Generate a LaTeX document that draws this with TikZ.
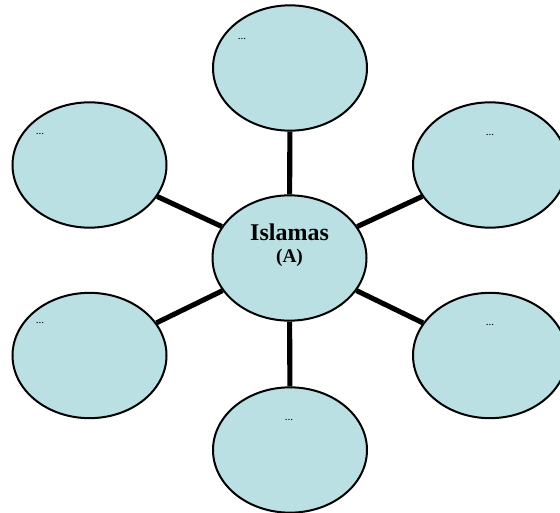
\documentclass[tikz,border=0pt]{standalone}
\usepackage{fontspec}
\setmainfont{Liberation Serif}
\usetikzlibrary{shapes.geometric}
\definecolor{bub}{HTML}{BBE0E3}
\begin{document}
\begin{tikzpicture}[x=0.75pt,y=-0.75pt,
  bubble/.style={ellipse, draw=black, line width=1.5pt, fill=bub,
    minimum width=115.5pt, minimum height=94pt, inner sep=0pt},
  spoke/.style={line width=3.8pt, black},
  dots/.style={font=\fontsize{8.5}{9}\selectfont, inner sep=0pt},
  title/.style={font=\bfseries\fontsize{18}{20}\selectfont, inner sep=0pt},
  sub/.style={font=\bfseries\fontsize{14.5}{16}\selectfont, inner sep=0pt}]
\useasboundingbox (0,0) rectangle (560,513);
\clip (0,0) rectangle (560,513);
\node[bubble] (c) at (289.5,258) {};
\node[bubble] (t) at (290,68) {};
\node[bubble] (tl) at (89.5,165) {};
\node[bubble] (tr) at (490,165) {};
\node[bubble] (bl) at (89.5,355.5) {};
\node[bubble] (br) at (490,355.5) {};
\node[bubble] (b) at (290,450) {};
\draw[spoke] (c) -- (t);
\draw[spoke] (c) -- (tl);
\draw[spoke] (c) -- (tr);
\draw[spoke] (c) -- (bl);
\draw[spoke] (c) -- (br);
\draw[spoke] (c) -- (b);
\node[title] (ct) at (289.5,232) {Islamas};
\node[sub] (cs) at (289.5,258) {(A)};
\node[dots] (dt) at (242,39) {...};
\node[dots] (dtl) at (40,134) {...};
\node[dots] (dtr) at (490,135) {...};
\node[dots] (dbl) at (40,323) {...};
\node[dots] (dbr) at (490,325) {...};
\node[dots] (db) at (289,420) {...};
\end{tikzpicture}
\end{document}
